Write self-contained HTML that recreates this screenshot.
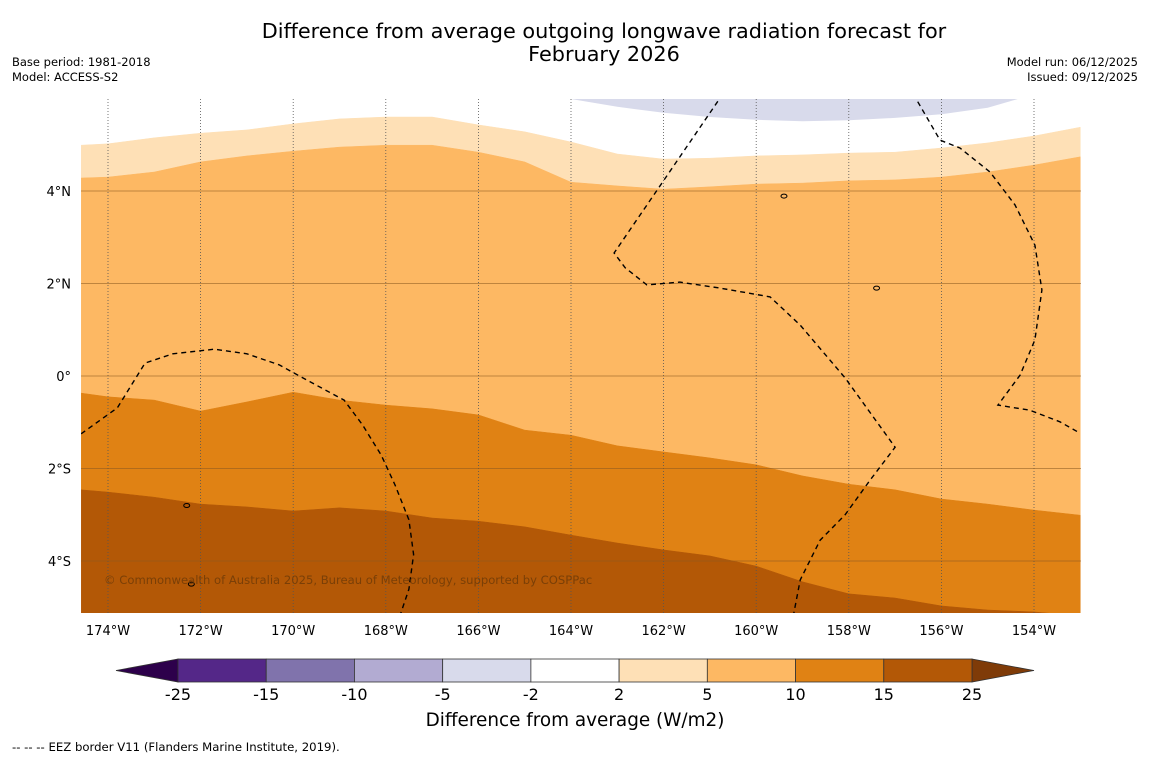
<!DOCTYPE html>
<html><head><meta charset="utf-8"><style>
body{margin:0;background:#fff;width:1150px;height:758px;overflow:hidden;font-family:"DejaVu Sans","Liberation Sans",sans-serif;}
svg text{font-family:"DejaVu Sans","Liberation Sans",sans-serif;}
</style></head><body>
<svg id="chart" width="1150" height="758">
<text x="604" y="38" font-size="20.8" text-anchor="middle">Difference from average outgoing longwave radiation forecast for</text>
<text x="604" y="61" font-size="20.8" text-anchor="middle">February 2026</text>
<text x="12" y="66" font-size="11.5">Base period: 1981-2018</text>
<text x="12" y="81" font-size="11.5">Model: ACCESS-S2</text>
<text x="1138" y="66" font-size="11.5" text-anchor="end">Model run: 06/12/2025</text>
<text x="1138" y="81" font-size="11.5" text-anchor="end">Issued: 09/12/2025</text>
<defs><clipPath id="mc"><rect x="81" y="99" width="1000" height="514"/></clipPath></defs>
<g id="map" clip-path="url(#mc)"></g>
<g id="axes"></g>
<text x="104" y="584" font-size="11.6" fill="#6b3a08" fill-opacity="0.8">© Commonwealth of Australia 2025, Bureau of Meteorology, supported by COSPPac</text>
<g id="cbar"></g>
<text x="575" y="726" font-size="18.4" text-anchor="middle">Difference from average (W/m2)</text>
<text x="12" y="751" font-size="11.7">--  --  -- EEZ border V11 (Flanders Marine Institute, 2019).</text>
</svg>
<script>
const lons=[-174.58,-174,-173,-172,-171,-170,-169,-168,-167,-166,-165,-164,-163,-162,-161,-160,-159,-158,-157,-156,-155,-154,-153];
const b2=[4.99,5.02,5.15,5.25,5.32,5.45,5.56,5.60,5.60,5.43,5.28,5.06,4.80,4.69,4.71,4.76,4.78,4.82,4.84,4.93,5.04,5.19,5.38];
const b5=[4.28,4.30,4.41,4.63,4.76,4.86,4.95,4.99,4.99,4.84,4.63,4.19,4.11,4.04,4.09,4.15,4.17,4.22,4.24,4.30,4.41,4.56,4.74];
const b10=[-0.37,-0.45,-0.52,-0.76,-0.56,-0.35,-0.52,-0.63,-0.71,-0.84,-1.17,-1.28,-1.51,-1.64,-1.77,-1.92,-2.16,-2.34,-2.46,-2.66,-2.77,-2.90,-3.01];
const b15=[-2.46,-2.51,-2.62,-2.77,-2.83,-2.92,-2.85,-2.92,-3.07,-3.14,-3.26,-3.44,-3.61,-3.76,-3.89,-4.11,-4.45,-4.71,-4.80,-4.97,-5.06,-5.10,-5.19];
const lavLons=[-164,-163,-162,-161,-160,-159,-158,-157,-156,-155,-154.35];
const lavLats=[5.99,5.82,5.69,5.60,5.54,5.51,5.53,5.58,5.66,5.80,5.99];
const eez1=[[-160.72,6.1],[-163.07,2.66],[-162.83,2.34],[-162.36,1.97],[-161.65,2.03],[-160.78,1.90],[-159.70,1.71],[-159.05,1.10],[-158.08,-0.04],[-157.0,-1.54],[-157.54,-2.25],[-158.08,-3.0],[-158.62,-3.55],[-159.05,-4.41],[-159.2,-5.2]];
const eez2=[[-156.61,6.1],[-156.03,5.10],[-155.60,4.93],[-154.95,4.41],[-154.41,3.70],[-153.98,2.83],[-153.83,1.86],[-153.98,0.78],[-154.30,0.02],[-154.78,-0.63],[-154.09,-0.74],[-153.44,-0.99],[-153.05,-1.21]];
const eez3=[[-174.58,-1.25],[-173.8,-0.69],[-173.2,0.28],[-172.6,0.48],[-171.7,0.58],[-171.0,0.48],[-170.3,0.24],[-169.7,-0.09],[-168.9,-0.52],[-168.5,-1.06],[-168.1,-1.71],[-167.8,-2.36],[-167.5,-3.11],[-167.4,-3.86],[-167.5,-4.61],[-167.7,-5.2]];
const lonTicks=[-174,-172,-170,-168,-166,-164,-162,-160,-158,-156,-154];
const latTicks=[4,2,0,-2,-4];
const cbTicks=["-25","-15","-10","-5","-2","2","5","10","15","25"];
const cbColors=["#542788","#8073ac","#b2abd2","#d8daeb","#ffffff","#fee0b6","#fdb863","#e08214","#b35806"];

const NS="http://www.w3.org/2000/svg";
const X=lon=>108+(lon+174)*46.3;
const Y=lat=>376-lat*46.25;
function mk(tag,parent,attrs){const e=document.createElementNS(NS,tag);for(const k in attrs)e.setAttribute(k,attrs[k]);parent.appendChild(e);return e;}
const map=document.getElementById('map');
function line(arr){return arr.map((v,i)=>X(lons[i]).toFixed(1)+','+Y(v).toFixed(1)).join(' L');}
function band(top,bot,color,name){
  const d='M'+line(top)+' L'+lons.slice().reverse().map((l,i)=>X(l).toFixed(1)+','+Y(bot[bot.length-1-i]).toFixed(1)).join(' L')+' Z';
  const p=mk('path',map,{d:d,fill:color,stroke:color,'stroke-width':0.5});
  
  
}
const topArr=lons.map(()=>6.5), botArr=lons.map(()=>-6);
band(topArr,b2,'#ffffff','band-white');
band(b2,b5,'#fee0b6','band-2-5');
band(b5,b10,'#fdb863','band-5-10');
band(b10,b15,'#e08214','band-10-15');
band(b15,botArr,'#b35806','band-15-25');
{
  const d='M'+X(lavLons[0])+','+Y(6.5)+' L'+lavLons.map((l,i)=>X(l).toFixed(1)+','+Y(lavLats[i]).toFixed(1)).join(' L')+' L'+X(lavLons[lavLons.length-1])+','+Y(6.5)+' Z';
  const p=mk('path',map,{d:d,fill:'#d8daeb'});
  
  
}
lonTicks.forEach(l=>{const g=mk('line',map,{x1:X(l),x2:X(l),y1:99,y2:613,stroke:'#555','stroke-width':0.8,'stroke-dasharray':'1,2'});
  
  });
latTicks.forEach(l=>{const g=mk('line',map,{x1:81,x2:1081,y1:Y(l),y2:Y(l),stroke:'#8a5a20','stroke-opacity':0.55,'stroke-width':1});
  
  });
[eez1,eez2,eez3].forEach((e,i)=>{const p=mk('polyline',map,{points:e.map(q=>X(q[0]).toFixed(1)+','+Y(q[1]).toFixed(1)).join(' '),fill:'none',stroke:'#000','stroke-width':1.4,'stroke-dasharray':'5,4'});
  
  });
[[-157.4,1.9],[-159.4,3.89],[-172.3,-2.8],[-172.2,-4.5]].forEach(q=>{const c=mk('ellipse',map,{cx:X(q[0]),cy:Y(q[1]),rx:3,ry:2,fill:'none',stroke:'#000','stroke-width':1});
  
  });
const ax=document.getElementById('axes');
lonTicks.forEach(l=>{const t=mk('text',ax,{x:X(l),y:635,'font-size':13,'text-anchor':'middle'});t.textContent=Math.abs(l)+'°W';
  
  });
latTicks.forEach(l=>{const t=mk('text',ax,{x:71,y:Y(l)+5,'font-size':13,'text-anchor':'end'});t.textContent=l===0?'0°':Math.abs(l)+'°'+(l>0?'N':'S');
  
  });
const cb=document.getElementById('cbar');
const x0=178,x1=972,y0=659,y1=682,w=(x1-x0)/cbColors.length;
const tl=mk('polygon',cb,{points:`${x0},${y0} 116,670.5 ${x0},${y1}`,fill:'#2d004b',stroke:'#333','stroke-width':0.8});


const tr=mk('polygon',cb,{points:`${x1},${y0} 1034,670.5 ${x1},${y1}`,fill:'#7f3b08',stroke:'#333','stroke-width':0.8});


cbColors.forEach((c,i)=>{const r=mk('rect',cb,{x:x0+i*w,y:y0,width:w,height:y1-y0,fill:c,stroke:'#333','stroke-width':0.8});
  
  });
cbTicks.forEach((t,i)=>{const e=mk('text',cb,{x:x0+i*w,y:700,'font-size':16,'text-anchor':'middle'});e.textContent=t;
  
  });
</script>
</body></html>
